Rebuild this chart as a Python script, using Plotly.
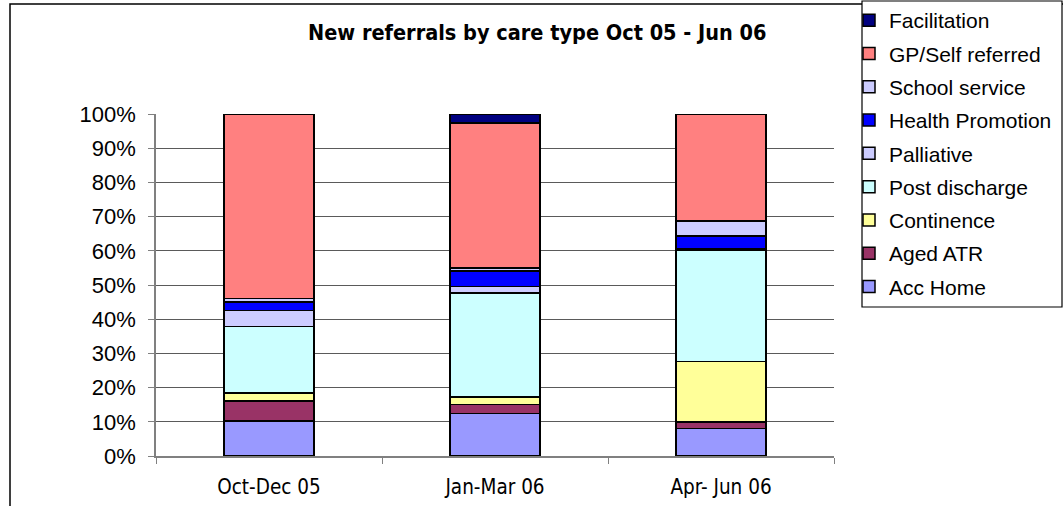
import plotly.graph_objects as go

categories = ["Oct-Dec 05", "Jan-Mar 06", "Apr- Jun 06"]

series_names = ["Acc Home", "Aged ATR", "Continence", "Post discharge", "Palliative",
                "Health Promotion", "School service", "GP/Self referred", "Facilitation"]

acc_home = [10.2, 12.5, 8.0]
aged_atr = [5.9, 2.6, 2.0]
continence = [2.3, 2.2, 17.6]
post_discharge = [19.5, 30.3, 32.6]
palliative = [4.7, 1.9, 0.5]
health_promotion = [2.5, 4.6, 3.7]
school_service = [1.0, 0.8, 4.3]
gp_self = [53.9, 42.4, 31.3]
facilitation = [0.0, 2.7, 0.0]

colors = ["#9999FF", "#993366", "#FFFF99", "#CCFFFF", "#CCCCFF",
          "#0000FF", "#CCCCFF", "#FF8080", "#000080"]

values = [acc_home, aged_atr, continence, post_discharge, palliative,
          health_promotion, school_service, gp_self, facilitation]

W, H = 1063, 506
L, R, T, B = 156, W - 834, 114, 50
pw, ph = W - L - R, H - T - B


def px(x):
    return (x - L) / pw


def py(y):
    return (H - B - y) / ph


fig = go.Figure()
n = len(series_names)
for i, (name, vals, col) in enumerate(zip(series_names, values, colors)):
    fig.add_trace(go.Bar(
        x=categories, y=[v / 100 for v in vals], name=name,
        marker=dict(color=col, line=dict(color="#000000", width=1.5)),
        width=0.4, legendgroup=name, legendrank=100 + (n - i),
    ))

fig.update_layout(
    barmode="stack",
    width=W, height=H,
    margin=dict(l=L, r=R, t=T, b=B, autoexpand=False),
    paper_bgcolor="white", plot_bgcolor="white",
    showlegend=True,
    legend=dict(
        x=px(849), y=py(0), xanchor="left", yanchor="top",
        traceorder="grouped", tracegroupgap=3,
        font=dict(family="Liberation Sans, Arial", size=21, color="black"),
        bgcolor="rgba(0,0,0,0)", borderwidth=0,
        itemclick=False, maxheight=600,
    ),
    font=dict(family="Liberation Sans, Arial", color="black"),
)

fig.update_yaxes(
    range=[0, 1], dtick=0.1, tickformat=".0%",
    showgrid=True, gridcolor="#5a5a5a", gridwidth=1,
    showline=True, linecolor="#808080", linewidth=1.5,
    ticks="outside", ticklen=6, tickcolor="#808080",
    ticklabelstandoff=8,
    tickfont=dict(family="Liberation Sans, Arial", size=22, color="black"),
    zeroline=False,
)
fig.update_xaxes(
    showline=True, linecolor="#808080", linewidth=1.5,
    ticks="outside", ticklen=6, tickcolor="#808080", tickson="boundaries",
    ticklabelstandoff=12,
    tickfont=dict(family="DejaVu Sans Condensed, DejaVu Sans", size=20.5, color="black"),
    range=[-0.5, 2.5],
)

fig.add_annotation(
    text="<b>New referrals by care type Oct 05 - Jun 06</b>",
    x=px(537), y=py(33), xref="paper", yref="paper",
    xanchor="center", yanchor="middle", showarrow=False,
    font=dict(family="DejaVu Sans Condensed, DejaVu Sans", size=21.5, color="black"),
)

# chart outer border (left and top visible)
fig.add_shape(type="rect", xref="paper", yref="paper",
              x0=px(10), x1=px(1100), y0=py(4), y1=py(560),
              line=dict(color="black", width=1.5), layer="below")
# legend box
fig.add_shape(type="rect", xref="paper", yref="paper",
              x0=px(862), x1=px(1062), y0=py(1), y1=py(307),
              line=dict(color="black", width=1.2), fillcolor="white", layer="below")

fig.write_html("out.html", config={"displayModeBar": False},
               post_script="document.body.style.margin='0px';")
